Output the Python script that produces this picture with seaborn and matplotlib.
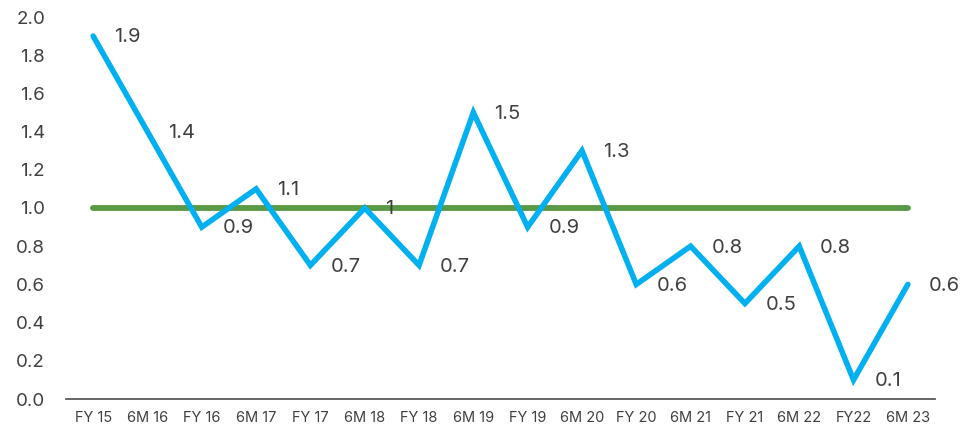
import matplotlib
matplotlib.use("Agg")
import matplotlib.pyplot as plt
import seaborn as sns
import pandas as pd

categories = ["FY 15", "6M 16", "FY 16", "6M 17", "FY 17", "6M 18", "FY 18", "6M 19",
              "FY 19", "6M 20", "FY 20", "6M 21", "FY 21", "6M 22", "FY22", "6M 23"]
values = [1.9, 1.4, 0.9, 1.1, 0.7, 1.0, 0.7, 1.5, 0.9, 1.3, 0.6, 0.8, 0.5, 0.8, 0.1, 0.6]
value_labels = ["1.9", "1.4", "0.9", "1.1", "0.7", "1", "0.7", "1.5", "0.9", "1.3",
                "0.6", "0.8", "0.5", "0.8", "0.1", "0.6"]
benchmark = [1.0] * len(categories)
y_ticks = [0.0, 0.2, 0.4, 0.6, 0.8, 1.0, 1.2, 1.4, 1.6, 1.8, 2.0]

sns.set_theme(style="white")
plt.rcParams['font.family'] = ['Inter', 'DejaVu Sans']

df = pd.DataFrame({"cat": categories, "x": range(len(categories)),
                   "value": values, "bench": benchmark})

fig = plt.figure(figsize=(9.7, 4.33), dpi=100)
ax = fig.add_axes([66/970, 34/433, (935-66)/970, (399-17)/433])

blue = "#00B0F0"
green = "#5A9A44"
text_col = "#404040"

sns.lineplot(data=df, x="x", y="bench", ax=ax, color=green, linewidth=4.2,
             solid_capstyle="round")
sns.lineplot(data=df, x="x", y="value", ax=ax, color=blue, linewidth=4.0,
             solid_capstyle="round", solid_joinstyle="miter")

for xi, v, lab in zip(df["x"], values, value_labels):
    ax.annotate(lab, (xi, v), xytext=(15, -1), textcoords="offset points",
                ha="left", va="center", fontsize=14.5, color=text_col)

ax.set_xlim(-0.5, len(categories) - 0.5)
ax.set_ylim(0, 2.0)
ax.set_xticks(list(df["x"]))
ax.set_xticklabels(categories, fontsize=10.5, color=text_col)
ax.set_yticks(y_ticks)
ax.set_yticklabels([f"{t:.1f}" for t in y_ticks], fontsize=13.5, color=text_col)
ax.tick_params(axis="x", length=0, pad=9)
ax.tick_params(axis="y", length=0, pad=15)
ax.set_xlabel("")
ax.set_ylabel("")
for s in ["top", "right", "left"]:
    ax.spines[s].set_visible(False)
ax.spines["bottom"].set_color("#595959")
ax.spines["bottom"].set_linewidth(1.3)
ax.grid(False)

fig.savefig("out.png", dpi=100)
